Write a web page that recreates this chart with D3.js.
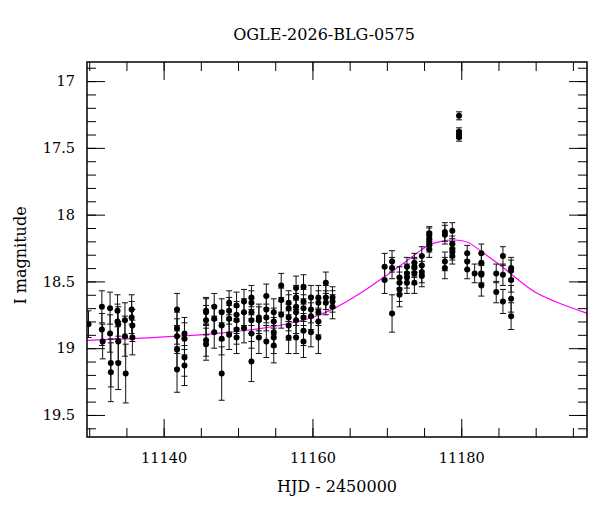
<!DOCTYPE html>
<html>
<head>
<meta charset="utf-8">
<script src="https://cdn.jsdelivr.net/npm/d3@7"></script>
<style>
  html, body { margin: 0; padding: 0; background: #fff; }
  text { font-family: "DejaVu Serif", serif; fill: #000; }
</style>
</head>
<body>
<div id="chart"></div>
<script>
/* OGLE-2026-BLG-0575 light curve, I band */

var hjd = [
  11129.9,
  11131.7, 11131.7, 11131.8,
  11132.8, 11132.8, 11132.9, 11132.9,
  11133.8, 11133.8, 11133.9, 11133.9, 11133.9,
  11134.8, 11134.8, 11134.9,
  11135.7, 11135.7, 11135.8, 11135.8,
  11141.8, 11141.8, 11141.8, 11141.8, 11141.8,
  11142.8, 11142.8, 11142.8, 11142.8,
  11145.7, 11145.7, 11145.7, 11145.7, 11145.7,
  11146.8, 11146.8, 11146.8,
  11147.8, 11147.8, 11147.8, 11147.8,
  11148.8, 11148.8, 11148.8, 11148.8,
  11149.8, 11149.8, 11149.8, 11149.8, 11149.8,
  11150.8, 11150.8, 11150.8,
  11151.8, 11151.8, 11151.8, 11151.8, 11151.8, 11151.8,
  11152.8, 11152.8, 11152.8,
  11153.8, 11153.8, 11153.8, 11153.8,
  11154.8, 11154.8, 11154.8, 11154.8, 11154.8,
  11155.8, 11155.8, 11155.8,
  11156.8, 11156.8, 11156.8, 11156.8, 11156.8,
  11157.8, 11157.8, 11157.8, 11157.8, 11157.8, 11157.8,
  11158.8, 11158.8, 11158.8, 11158.8, 11158.8, 11158.8,
  11159.8, 11159.8, 11159.8, 11159.8,
  11160.8, 11160.8, 11160.8, 11160.8, 11160.8,
  11161.8, 11161.8, 11161.8,
  11162.7, 11162.7, 11162.7,
  11169.7, 11169.7,
  11170.7, 11170.7, 11170.7,
  11171.7, 11171.7, 11171.7, 11171.7,
  11172.7, 11172.7, 11172.7, 11172.7,
  11173.7, 11173.7, 11173.7, 11173.7, 11173.7,
  11174.7, 11174.7, 11174.7, 11174.7,
  11175.7, 11175.7, 11175.7, 11175.7, 11175.7, 11175.7,
  11177.8, 11177.8, 11177.8, 11177.8,
  11178.8, 11178.8, 11178.8, 11178.8, 11178.8,
  11179.7, 11179.7, 11179.7, 11179.7,
  11180.8, 11180.8, 11180.8,
  11181.8,
  11182.7, 11182.7, 11182.7, 11182.7, 11182.7,
  11184.7, 11184.7,
  11185.6, 11185.6, 11185.6,
  11186.7, 11186.7, 11186.7, 11186.7, 11186.7
];

var mag = [
  18.82,
  18.69, 18.86, 18.95,
  18.70, 18.89, 19.11, 19.18,
  18.72, 18.80, 18.82, 18.95, 19.11,
  18.79, 18.91, 19.19,
  18.71, 18.77, 18.83, 18.92,
  18.71, 18.85, 18.91, 19.01, 19.16,
  18.89, 18.93, 19.07, 19.13,
  18.72, 18.73, 18.79, 18.94, 18.97,
  18.69, 18.78, 18.88,
  18.73, 18.83, 18.93, 19.19,
  18.66, 18.72, 18.78, 18.90,
  18.68, 18.75, 18.79, 18.86, 18.92,
  18.65, 18.73, 18.85,
  18.62, 18.66, 18.73, 18.79, 18.89, 19.10,
  18.77, 18.79, 18.92,
  18.61, 18.71, 18.77, 18.95,
  18.73, 18.80, 18.88, 18.92, 18.98,
  18.53, 18.64, 18.75,
  18.66, 18.70, 18.77, 18.83, 18.92,
  18.55, 18.62, 18.69, 18.73, 18.79, 18.92,
  18.54, 18.65, 18.70, 18.77, 18.87, 18.95,
  18.62, 18.71, 18.76, 18.88,
  18.62, 18.66, 18.73, 18.80, 18.92,
  18.51, 18.62, 18.66,
  18.62, 18.65, 18.69,
  18.39, 18.49,
  18.35, 18.40, 18.74,
  18.47, 18.51, 18.56, 18.60,
  18.39, 18.44, 18.47, 18.51,
  18.36, 18.39, 18.40, 18.44, 18.51,
  18.31, 18.38, 18.43, 18.46,
  18.14, 18.15, 18.18, 18.21, 18.23, 18.26,
  18.13, 18.15, 18.35, 18.40,
  18.12, 18.22, 18.26, 18.28, 18.31,
  17.26, 17.38, 17.40, 17.42,
  18.29, 18.35, 18.41,
  18.44,
  18.29, 18.36, 18.44, 18.45, 18.53,
  18.44, 18.58,
  18.31, 18.45, 18.65,
  18.40, 18.42, 18.49, 18.63, 18.76
];

var magErr = [
  0.10,
  0.12, 0.12, 0.13,
  0.12, 0.14, 0.18, 0.22,
  0.12, 0.13, 0.13, 0.15, 0.20,
  0.13, 0.15, 0.22,
  0.11, 0.12, 0.12, 0.13,
  0.12, 0.12, 0.13, 0.14, 0.17,
  0.12, 0.12, 0.14, 0.15,
  0.10, 0.10, 0.11, 0.12, 0.12,
  0.10, 0.10, 0.12,
  0.10, 0.11, 0.12, 0.20,
  0.09, 0.10, 0.10, 0.11,
  0.10, 0.10, 0.10, 0.11, 0.12,
  0.09, 0.10, 0.11,
  0.09, 0.09, 0.10, 0.10, 0.11, 0.15,
  0.10, 0.10, 0.12,
  0.09, 0.10, 0.10, 0.12,
  0.10, 0.10, 0.11, 0.12, 0.13,
  0.09, 0.09, 0.10,
  0.09, 0.10, 0.10, 0.11, 0.12,
  0.09, 0.09, 0.10, 0.10, 0.10, 0.12,
  0.09, 0.09, 0.10, 0.10, 0.11, 0.12,
  0.09, 0.10, 0.10, 0.11,
  0.09, 0.09, 0.10, 0.10, 0.12,
  0.08, 0.09, 0.09,
  0.08, 0.08, 0.09,
  0.10, 0.10,
  0.08, 0.08, 0.14,
  0.08, 0.08, 0.09, 0.09,
  0.07, 0.07, 0.08, 0.08,
  0.07, 0.07, 0.07, 0.08, 0.08,
  0.07, 0.07, 0.08, 0.08,
  0.05, 0.05, 0.05, 0.05, 0.05, 0.06,
  0.07, 0.07, 0.07, 0.08,
  0.06, 0.06, 0.06, 0.06, 0.06,
  0.03, 0.03, 0.03, 0.03,
  0.06, 0.06, 0.07,
  0.07,
  0.07, 0.07, 0.07, 0.07, 0.08,
  0.07, 0.08,
  0.07, 0.08, 0.09,
  0.08, 0.08, 0.09, 0.10, 0.10
];

// model curve
var modelHjd = [11128, 11135, 11142, 11148, 11152, 11155.5, 11158, 11160, 11163, 11165.8,
                11168, 11170.3, 11172.1, 11174, 11175.6, 11177.3, 11179.0, 11181.0, 11182.8,
                11185.5, 11186.8, 11189.9, 11192.6, 11197.5];
var modelMag = [18.945, 18.93, 18.91, 18.885, 18.86, 18.83, 18.80, 18.77, 18.70, 18.61,
                18.53, 18.44, 18.37, 18.29, 18.23, 18.20, 18.19, 18.21, 18.28,
                18.39, 18.45, 18.58, 18.65, 18.75];

var xLabelTicks = [11140, 11160, 11180];
var yLabelTicks = [17, 17.5, 18, 18.5, 19, 19.5];

var W = 600, H = 512;
var L = 87, R = 587, T = 62, B = 437;

var svg = d3.select('#chart').append('svg')
  .attr('width', W).attr('height', H);

var x = d3.scaleLinear().domain([11129.7, 11196.9]).range([L, R]);
var y = d3.scaleLinear().domain([16.857, 19.665]).range([T, B]);

var xMinor = d3.range(11130, 11197, 5);
var yMinor = d3.range(16.9, 19.65, 0.1);

/* ── ticks on all four sides, pointing in ── */
function ticks(axis, tf) {
  var g = svg.append('g').attr('transform', tf).call(axis);
  g.select('.domain').remove();
  g.selectAll('line').attr('stroke', '#000').attr('stroke-width', 1);
  return g;
}

ticks(d3.axisBottom(x).tickValues(xMinor).tickSize(-9).tickFormat(''), 'translate(0,' + B + ')');
ticks(d3.axisTop(x).tickValues(xMinor).tickSize(-9).tickFormat(''), 'translate(0,' + T + ')');
ticks(d3.axisLeft(y).tickValues(yMinor).tickSize(-9).tickFormat(''), 'translate(' + L + ',0)');
ticks(d3.axisRight(y).tickValues(yMinor).tickSize(-9).tickFormat(''), 'translate(' + R + ',0)');

var xb = ticks(d3.axisBottom(x).tickValues(xLabelTicks).tickSize(-18).tickPadding(16)
  .tickFormat(d3.format('d')), 'translate(0,' + B + ')');
ticks(d3.axisTop(x).tickValues(xLabelTicks).tickSize(-18).tickFormat(''), 'translate(0,' + T + ')');
var yl = ticks(d3.axisLeft(y).tickValues(yLabelTicks).tickSize(-18).tickPadding(12)
  .tickFormat(function (d) { return String(d); }), 'translate(' + L + ',0)');
ticks(d3.axisRight(y).tickValues(yLabelTicks).tickSize(-18).tickFormat(''), 'translate(' + R + ',0)');

xb.selectAll('text').attr('font-size', 14.5).attr('font-family', '"DejaVu Serif", serif').attr('fill', '#000');
yl.selectAll('text').attr('font-size', 14.5).attr('font-family', '"DejaVu Serif", serif').attr('fill', '#000');

/* ── model ── */
svg.append('clipPath').attr('id', 'plotClip')
  .append('rect').attr('x', L).attr('y', T).attr('width', R - L).attr('height', B - T);

var line = d3.line()
  .x(function (d) { return x(d[0]); })
  .y(function (d) { return y(d[1]); })
  .curve(d3.curveCatmullRom.alpha(0.5));

svg.append('path')
  .datum(d3.zip(modelHjd, modelMag))
  .attr('clip-path', 'url(#plotClip)')
  .attr('d', line)
  .attr('fill', 'none')
  .attr('stroke', '#ff00ff')
  .attr('stroke-width', 1.2);

/* ── data with error bars ── */
var pts = hjd.map(function (t, i) { return { t: t, m: mag[i], e: magErr[i] }; });
var cap = 3;

var eb = svg.append('g').attr('clip-path', 'url(#plotClip)')
  .attr('stroke', '#111').attr('stroke-width', 1);

eb.selectAll('line.bar').data(pts).join('line')
  .attr('x1', function (d) { return x(d.t); }).attr('x2', function (d) { return x(d.t); })
  .attr('y1', function (d) { return y(d.m - d.e); }).attr('y2', function (d) { return y(d.m + d.e); });
eb.selectAll('line.top').data(pts).join('line').attr('class', 'top')
  .attr('x1', function (d) { return x(d.t) - cap; }).attr('x2', function (d) { return x(d.t) + cap; })
  .attr('y1', function (d) { return y(d.m - d.e); }).attr('y2', function (d) { return y(d.m - d.e); });
eb.selectAll('line.bot').data(pts).join('line').attr('class', 'bot')
  .attr('x1', function (d) { return x(d.t) - cap; }).attr('x2', function (d) { return x(d.t) + cap; })
  .attr('y1', function (d) { return y(d.m + d.e); }).attr('y2', function (d) { return y(d.m + d.e); });

svg.append('g').attr('clip-path', 'url(#plotClip)')
  .selectAll('circle').data(pts).join('circle')
  .attr('cx', function (d) { return x(d.t); })
  .attr('cy', function (d) { return y(d.m); })
  .attr('r', 3)
  .attr('fill', '#000');

/* ── frame ── */
svg.append('rect')
  .attr('x', L).attr('y', T).attr('width', R - L).attr('height', B - T)
  .attr('fill', 'none').attr('stroke', '#000').attr('stroke-width', 1.5);

/* ── titles ── */
svg.append('text').attr('x', 324).attr('y', 40).attr('text-anchor', 'middle')
  .attr('font-size', 16).text('OGLE-2026-BLG-0575');
svg.append('text').attr('x', 337).attr('y', 492).attr('text-anchor', 'middle')
  .attr('font-size', 16).text('HJD - 2450000');
svg.append('text').attr('transform', 'translate(26,' + ((T + B) / 2 + 6) + ') rotate(-90)')
  .attr('text-anchor', 'middle').attr('font-size', 16).text('I magnitude');
</script>
</body>
</html>
